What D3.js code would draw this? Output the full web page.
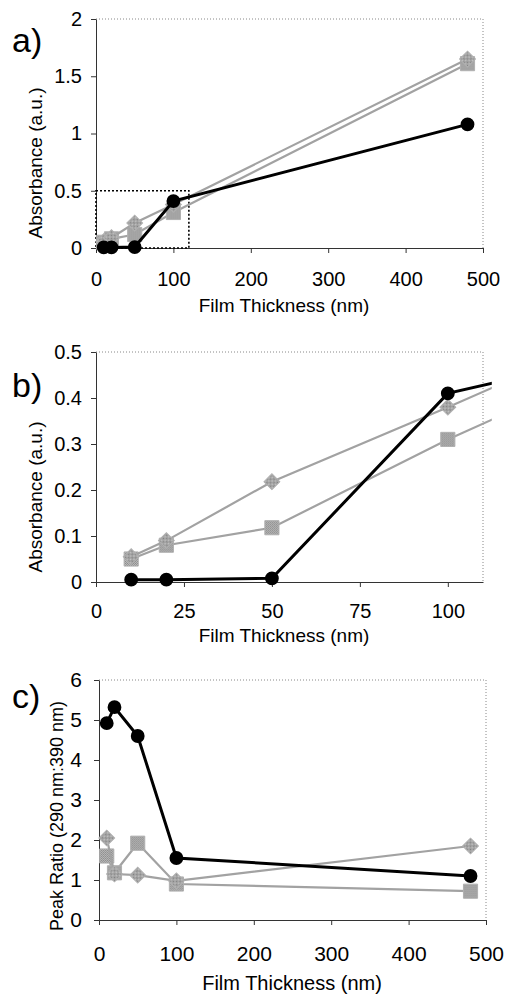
<!DOCTYPE html>
<html>
<head>
    <title>Absorbance and Peak Ratio vs Film Thickness</title>
    <script src="https://d3js.org/d3.v7.min.js"></script>
    <style>
        body { margin: 0; background: #fff; }
        svg { font-family: "Liberation Sans", Arial, sans-serif; }
        .tick line { stroke: #333; }
        .domain { stroke: #333; }
        .border { fill: none; stroke: #888; stroke-dasharray: 1,2; }
        .gray-line { fill: none; stroke: #a2a2a2; stroke-width: 2.2px; }
        .black-line { fill: none; stroke: #000; stroke-width: 3px; }
    </style>
</head>
<body>
    <script>
        // film thickness (nm)
        var thickness = [10, 20, 50, 100, 480];

        // absorbance (a.u.)
        var absCircle = [0.005, 0.005, 0.008, 0.41, 1.08];
        var absDiamond = [0.055, 0.09, 0.218, 0.38, 1.65];
        var absSquare = [0.05, 0.08, 0.118, 0.31, 1.61];

        // peak ratio 290 nm : 390 nm
        var ratioCircle = [4.92, 5.32, 4.6, 1.55, 1.1];
        var ratioDiamond = [2.05, 1.15, 1.12, 0.98, 1.85];
        var ratioSquare = [1.6, 1.18, 1.92, 0.9, 0.72];

        var ticksA = [0, 100, 200, 300, 400, 500];
        var ticksB = [0, 25, 50, 75, 100];
        var yTicksA = [0, 0.5, 1, 1.5, 2];
        var yTicksB = [0, 0.1, 0.2, 0.3, 0.4, 0.5];
        var yTicksC = [0, 1, 2, 3, 4, 5, 6];

        var svg = d3.select("body").append("svg")
            .attr("width", 505)
            .attr("height", 996);

        // dithered gray fill, like the scanned markers
        var pat = svg.append("defs").append("pattern")
            .attr("id", "dither").attr("width", 2).attr("height", 2)
            .attr("patternUnits", "userSpaceOnUse");
        pat.append("rect").attr("width", 2).attr("height", 2).attr("fill", "#c4c4c4");
        pat.append("rect").attr("width", 1).attr("height", 1).attr("fill", "#7e7e7e");
        pat.append("rect").attr("x", 1).attr("y", 1).attr("width", 1).attr("height", 1).attr("fill", "#8a8a8a");

        function zip(ys) {
            return thickness.map(function(t, i) { return [t, ys[i]]; });
        }

        function panel(opt) {
            var x = d3.scaleLinear().domain(opt.xDomain).range([opt.left, opt.right]);
            var y = d3.scaleLinear().domain(opt.yDomain).range([opt.bottom, opt.top]);
            var g = svg.append("g");

            // dotted plot-area border (top + right)
            g.append("path").attr("class", "border")
                .attr("d", "M" + opt.left + "," + opt.top + "H" + opt.right + "V" + opt.bottom);

            var xa = g.append("g")
                .attr("transform", "translate(0," + opt.bottom + ")")
                .call(d3.axisBottom(x).tickValues(opt.xTicks).tickSize(5).tickSizeOuter(0)
                    .tickPadding(opt.xPad).tickFormat(d3.format("d")));
            xa.selectAll("text").attr("font-size", opt.tickFont).attr("fill", "#000");

            var ya = g.append("g")
                .attr("transform", "translate(" + opt.left + ",0)")
                .call(d3.axisLeft(y).tickValues(opt.yTicks).tickSize(5).tickSizeOuter(0)
                    .tickPadding(opt.yPad).tickFormat(function(d) { return String(d); }));
            ya.selectAll("text").attr("font-size", opt.tickFont).attr("fill", "#000");
            ya.select(".domain").attr("stroke", "#555");

            if (opt.zoomBox) {
                g.append("rect")
                    .attr("x", x(0)).attr("y", y(opt.zoomBox[1]))
                    .attr("width", x(opt.zoomBox[0]) - x(0))
                    .attr("height", y(0) - y(opt.zoomBox[1]))
                    .attr("fill", "none").attr("stroke", "#000")
                    .attr("stroke-width", 1.6).attr("stroke-dasharray", "2,2");
            }

            var clipId = "clip" + opt.id;
            svg.append("clipPath").attr("id", clipId).append("rect")
                .attr("x", opt.left - 10).attr("y", opt.top - 20)
                .attr("width", x(opt.clipX) - opt.left + 10)
                .attr("height", opt.bottom - opt.top + 30);

            var line = d3.line().x(function(d) { return x(d[0]); }).y(function(d) { return y(d[1]); });
            var marks = g.append("g").attr("clip-path", "url(#" + clipId + ")");

            var series = [
                { pts: zip(opt.square), type: "square" },
                { pts: zip(opt.diamond), type: "diamond" },
                { pts: zip(opt.circle), type: "circle" }
            ];

            series.forEach(function(s) {
                marks.append("path").datum(s.pts)
                    .attr("class", s.type === "circle" ? "black-line" : "gray-line")
                    .attr("d", line);
                marks.selectAll(null).data(s.pts).enter().append("path")
                    .attr("transform", function(d) {
                        var t = "translate(" + x(d[0]) + "," + y(d[1]) + ")";
                        return s.type === "diamond" ? t + " rotate(45)" : t;
                    })
                    .attr("d", function() {
                        if (s.type === "circle") return d3.symbol().type(d3.symbolCircle).size(150)();
                        if (s.type === "diamond") return d3.symbol().type(d3.symbolSquare).size(125)();
                        return d3.symbol().type(d3.symbolSquare).size(200)();
                    })
                    .attr("fill", s.type === "circle" ? "#000" : "url(#dither)")
                    .attr("stroke", s.type === "circle" ? "none" : "#b0b0b0")
                    .attr("stroke-width", 1);
            });

            g.append("text")
                .attr("x", opt.xTitleX).attr("y", opt.xTitleY)
                .attr("text-anchor", "middle").attr("font-size", opt.titleFont)
                .text("Film Thickness (nm)");

            g.append("text")
                .attr("transform", "translate(" + opt.yTitleX + "," + opt.yTitleY + ") rotate(-90)")
                .attr("text-anchor", "middle").attr("dy", "0.35em")
                .attr("font-size", opt.yTitleFont)
                .text(opt.yTitle);

            g.append("text")
                .attr("x", 12).attr("y", opt.labelY)
                .attr("font-size", 34)
                .text(opt.label);
        }

        panel({
            id: "a", label: "a)", labelY: 52,
            left: 96, right: 483, top: 19, bottom: 248,
            xDomain: [0, 500], yDomain: [0, 2], xTicks: ticksA, yTicks: yTicksA,
            xPad: 19, yPad: 9, tickFont: 20, titleFont: 19, yTitleFont: 19,
            xTitleX: 284, xTitleY: 312, yTitleX: 35, yTitleY: 163,
            yTitle: "Absorbance (a.u.)", zoomBox: [120, 0.5], clipX: 520,
            circle: absCircle, diamond: absDiamond, square: absSquare
        });

        panel({
            id: "b", label: "b)", labelY: 397,
            left: 96, right: 483, top: 352, bottom: 582,
            xDomain: [0, 110], yDomain: [0, 0.5], xTicks: ticksB, yTicks: yTicksB,
            xPad: 17, yPad: 9, tickFont: 20, titleFont: 19, yTitleFont: 19,
            xTitleX: 284, xTitleY: 642, yTitleX: 35, yTitleY: 497,
            yTitle: "Absorbance (a.u.)", clipX: 112.5,
            circle: absCircle, diamond: absDiamond, square: absSquare
        });

        panel({
            id: "c", label: "c)", labelY: 708,
            left: 99, right: 486, top: 680, bottom: 920,
            xDomain: [0, 500], yDomain: [0, 6], xTicks: ticksA, yTicks: yTicksC,
            xPad: 21, yPad: 12, tickFont: 21, titleFont: 20, yTitleFont: 18,
            xTitleX: 292, xTitleY: 990, yTitleX: 57, yTitleY: 816,
            yTitle: "Peak Ratio (290 nm:390 nm)", clipX: 520,
            circle: ratioCircle, diamond: ratioDiamond, square: ratioSquare
        });
    </script>
</body>
</html>
